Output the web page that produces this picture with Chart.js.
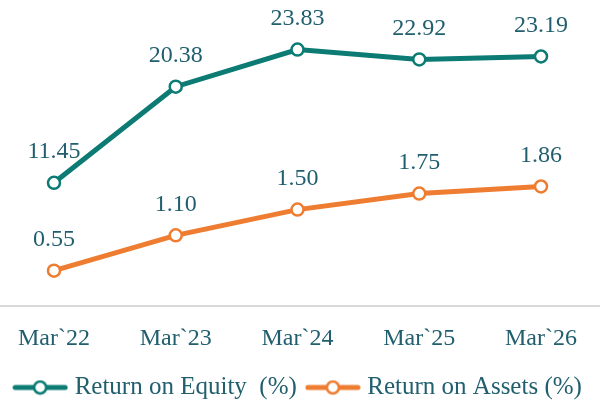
<!DOCTYPE html>
<html>
<head>
<meta charset="utf-8">
<script src="https://cdn.jsdelivr.net/npm/chart.js@4"></script>
<style>
  html, body { margin: 0; padding: 0; background: #ffffff; }
  #wrap { width: 600px; height: 401px; }
</style>
</head>
<body>
<div id="wrap"><canvas id="ratioChart" width="600" height="401"></canvas></div>
<script>
// chart data
const years = ['Mar`22', 'Mar`23', 'Mar`24', 'Mar`25', 'Mar`26'];
const roeValues = [11.45, 20.38, 23.83, 22.92, 23.19];
const roaValues = [0.55, 1.10, 1.50, 1.75, 1.86];
const seriesNames = ['Return on Equity  (%)', 'Return on Assets (%)'];

const tealColor = '#0b7b74';
const orangeColor = '#ee7d31';
const textColor = '#215f6e';
const fontFamily = "'Liberation Serif', 'DejaVu Serif', serif";

// little line + circle icon used in the legend
function makeLegendIcon(color) {
    const c = document.createElement('canvas');
    c.width = 56;
    c.height = 16;
    const ctx = c.getContext('2d');
    ctx.strokeStyle = color;
    ctx.lineWidth = 5;
    ctx.lineCap = 'round';
    ctx.beginPath();
    ctx.moveTo(3, 8);
    ctx.lineTo(53, 8);
    ctx.stroke();
    ctx.beginPath();
    ctx.arc(28, 8, 6, 0, Math.PI * 2);
    ctx.fillStyle = '#ffffff';
    ctx.fill();
    ctx.lineWidth = 2.5;
    ctx.stroke();
    return c;
}
const legendIcons = [makeLegendIcon(tealColor), makeLegendIcon(orangeColor)];

// value labels above points + full width base line
const extrasPlugin = {
    id: 'extras',
    beforeDatasetsDraw(chart) {
        const ctx = chart.ctx;
        const y0 = chart.scales.y.getPixelForValue(0);
        ctx.save();
        ctx.strokeStyle = '#d9d9d9';
        ctx.lineWidth = 2;
        ctx.beginPath();
        ctx.moveTo(0, y0);
        ctx.lineTo(chart.width, y0);
        ctx.stroke();
        ctx.restore();
    },
    afterDatasetsDraw(chart) {
        const ctx = chart.ctx;
        ctx.save();
        ctx.font = '24px ' + fontFamily;
        ctx.fillStyle = textColor;
        ctx.textAlign = 'center';
        ctx.textBaseline = 'middle';
        chart.data.datasets.forEach((ds, i) => {
            const meta = chart.getDatasetMeta(i);
            meta.data.forEach((pt, j) => {
                ctx.fillText(ds.data[j].toFixed(2), pt.x, pt.y - 31);
            });
        });
        ctx.restore();
    }
};

const ratioChart = new Chart(document.getElementById('ratioChart').getContext('2d'), {
    type: 'line',
    data: {
        labels: years,
        datasets: [{
            label: seriesNames[0],
            data: roeValues,
            yAxisID: 'y',
            borderColor: tealColor,
            borderWidth: 5,
            pointRadius: 6,
            pointBorderWidth: 2.5,
            pointBackgroundColor: '#ffffff',
            pointBorderColor: tealColor,
            tension: 0,
            fill: false
        }, {
            label: seriesNames[1],
            data: roaValues,
            yAxisID: 'y1',
            borderColor: orangeColor,
            borderWidth: 5,
            pointRadius: 6,
            pointBorderWidth: 2.5,
            pointBackgroundColor: '#ffffff',
            pointBorderColor: orangeColor,
            tension: 0,
            fill: false
        }]
    },
    options: {
        responsive: false,
        animation: false,
        layout: {
            padding: { left: 0, right: 0, top: 0, bottom: -9 }
        },
        scales: {
            x: {
                grid: { display: false, drawTicks: false },
                border: { display: false },
                ticks: {
                    color: textColor,
                    padding: 18,
                    font: { family: fontFamily, size: 24 }
                },
                afterFit(scale) { scale.height = 55; }
            },
            y: {
                position: 'left',
                min: 0,
                max: 27.65,
                grid: { display: false, drawTicks: false },
                border: { display: false },
                ticks: { display: false },
                afterFit(scale) { scale.width = 52; }
            },
            y1: {
                position: 'right',
                min: 0,
                max: 4.63,
                grid: { display: false, drawTicks: false },
                border: { display: false },
                ticks: { display: false },
                afterFit(scale) { scale.width = 59; }
            }
        },
        plugins: {
            tooltip: { enabled: false },
            legend: {
                position: 'bottom',
                labels: {
                    usePointStyle: true,
                    pointStyleWidth: 44,
                    padding: 14,
                    color: textColor,
                    font: { family: fontFamily, size: 25 },
                    generateLabels(chart) {
                        const items = Chart.defaults.plugins.legend.labels.generateLabels(chart);
                        items.forEach((item, i) => { item.pointStyle = legendIcons[i]; });
                        return items;
                    }
                }
            }
        }
    },
    plugins: [extrasPlugin]
});
</script>
</body>
</html>
